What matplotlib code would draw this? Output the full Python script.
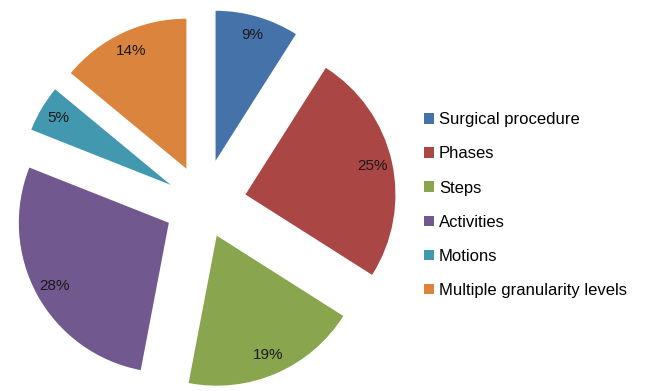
import matplotlib.pyplot as plt

# share of papers per granularity level
labels = ['Surgical procedure', 'Phases', 'Steps', 'Activities', 'Motions',
          'Multiple granularity levels']
values = [9, 25, 19, 28, 5, 14]
colors = ['#4672AA', '#AA4644', '#89A54E', '#71588F', '#4298AF', '#DB843D']
explode = [0.30, 0.29, 0.23, 0.26, 0.25, 0.26]

plt.rcParams['font.family'] = ['Liberation Sans', 'DejaVu Sans']

fig = plt.figure(figsize=(6.46, 3.91), dpi=100)
ax = fig.add_axes([0, 0, 1, 1])

wedges, texts, autotexts = ax.pie(
    values, colors=colors, explode=explode, startangle=90, counterclock=False,
    radius=1.0, autopct='%d%%', pctdistance=0.87,
    textprops={'fontsize': 11, 'color': '#1a1a1a'},
    wedgeprops={'linewidth': 0})

# put the pie where it sits in the original (150 px per unit)
ax.set_aspect('auto')
ax.set_xlim(-203 / 150, (646 - 203) / 150)
ax.set_ylim(-(391 - 204) / 150, 204 / 150)
ax.axis('off')

leg = ax.legend(wedges, labels, loc='upper left', bbox_to_anchor=(0.646, 0.73),
                frameon=False, fontsize=12, handlelength=0.6, handleheight=0.6,
                handletextpad=0.3, labelspacing=1.15, borderaxespad=0)

fig.savefig('out.png', dpi=100)
